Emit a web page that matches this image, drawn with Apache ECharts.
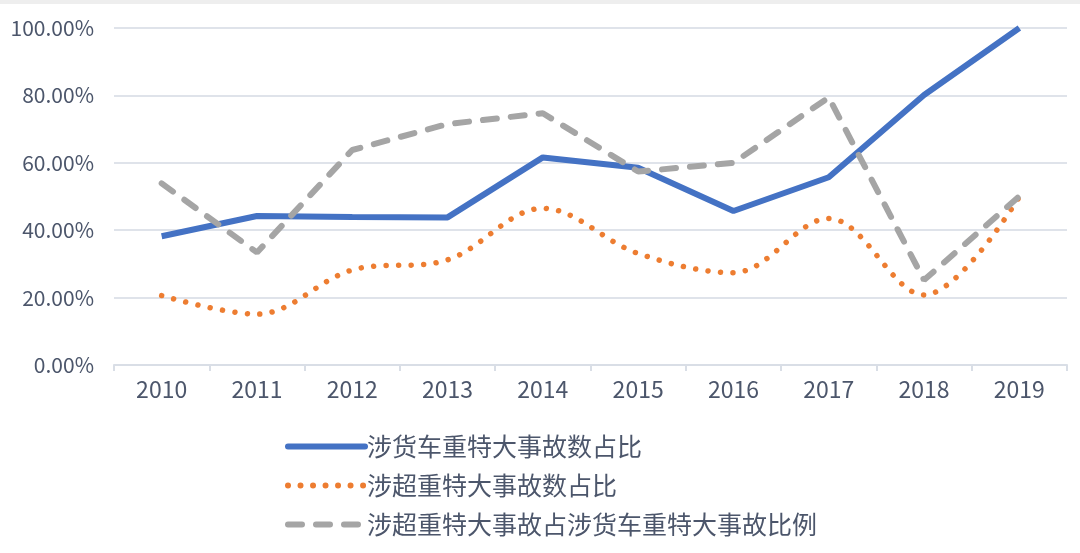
<!DOCTYPE html>
<html><head><meta charset="utf-8">
<script src="https://cdn.jsdelivr.net/npm/echarts@6/dist/echarts.min.js"></script>
<style>html,body{margin:0;padding:0;background:#fff}#c{width:1080px;height:553px}</style>
</head><body><div id="c"></div>
<script>
const categories = ['2010','2011','2012','2013','2014','2015','2016','2017','2018','2019'];
const truckShare = [38.2, 44.2, 43.9, 43.8, 61.6, 58.5, 45.7, 55.7, 80.1, 100.0];
const overloadShare = [20.6, 15.1, 28.2, 31.2, 46.5, 33.1, 27.4, 43.5, 20.8, 49.9];
const overloadOfTruck = [53.9, 33.4, 63.8, 71.5, 74.7, 57.4, 60.0, 79.4, 25.2, 50.1];
const seriesNames = ['涉货车重特大事故数占比', '涉超重特大事故数占比', '涉超重特大事故占涉货车重特大事故比例'];

const font = '"Noto Sans CJK SC", "Noto Sans", sans-serif';
const textColor = '#4c566b';
const chart = echarts.init(document.getElementById('c'));
chart.setOption({
  animation: false,
  textStyle: { fontFamily: font },
  graphic: [{ type: 'rect', shape: { x: 0, y: 0, width: 1080, height: 4 }, style: { fill: '#eeeeee' } }],
  grid: { left: 114, right: 13, top: 28, bottom: 188 },
  legend: {
    orient: 'vertical', left: 280, top: 429, itemGap: 14,
    itemWidth: 77, itemHeight: 30,
    itemStyle: { opacity: 0 },
    lineStyle: { width: 6, cap: 'round' },
    textStyle: { fontSize: 25, color: textColor, fontFamily: font, padding: [0, 0, 0, -3] },
    data: seriesNames
  },
  xAxis: {
    type: 'category', data: categories, boundaryGap: true,
    axisLine: { lineStyle: { color: '#d9dee6', width: 2 } },
    axisTick: { show: true, length: 6, lineStyle: { color: '#d9dee6', width: 2 } },
    axisLabel: { fontSize: 23, color: textColor, margin: 13, fontFamily: font }
  },
  yAxis: {
    type: 'value', min: 0, max: 100, interval: 20,
    axisLine: { show: false }, axisTick: { show: false },
    splitLine: { lineStyle: { color: '#dfe3ea', width: 2 } },
    axisLabel: { fontSize: 21, color: textColor, margin: 20, fontFamily: font,
      formatter: v => v.toFixed(2) + '%' }
  },
  series: [
    { name: seriesNames[0], type: 'line', data: truckShare, symbol: 'none',
      lineStyle: { color: '#4472c4', width: 6 }, itemStyle: { color: '#4472c4' } },
    { name: seriesNames[1], type: 'line', data: overloadShare, symbol: 'none', smooth: 0.35,
      lineStyle: { color: '#ed7d31', width: 5.5, type: [0.01, 12.5], cap: 'round' }, itemStyle: { color: '#ed7d31' } },
    { name: seriesNames[2], type: 'line', data: overloadOfTruck, symbol: 'none',
      lineStyle: { color: '#a5a5a5', width: 6, type: [14, 14], cap: 'round' }, itemStyle: { color: '#a5a5a5' } }
  ]
});
</script></body></html>
